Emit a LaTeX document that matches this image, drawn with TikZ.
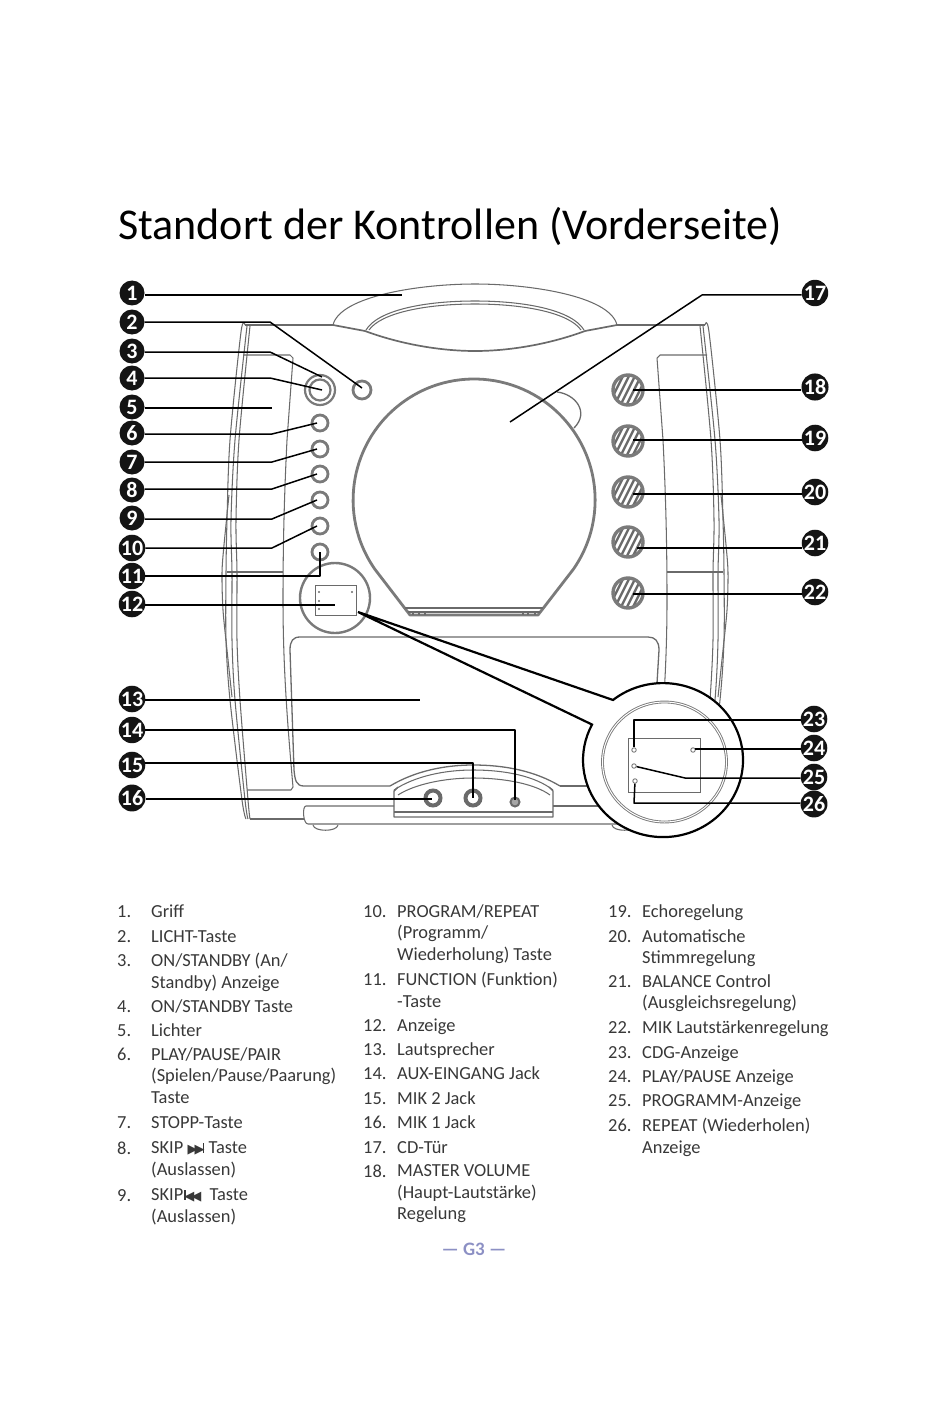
\documentclass[tikz,border=0pt]{standalone}
\usepackage{fontspec}
\setmainfont{Carlito}
\newfontfamily\symfont{DejaVu Sans}
\usetikzlibrary{arrows.meta,positioning,shapes.geometric,calc}
\definecolor{bodygray}{HTML}{6A6A6A}
\definecolor{ringgray}{HTML}{7A7A7A}
\definecolor{pagelabel}{HTML}{8C90C4}
\tikzset{
  ctl/badge/.style={circle, fill=black!92, text=white, inner sep=0pt, minimum size=25pt, font=\fontsize{22}{22}\selectfont\bfseries},
  ctl/leader/.style={line width=1.5pt, black, line join=round},
  ctl/body/.style={line width=1.05pt, bodygray, line join=round},
  ctl/ring/.style={line width=2.8pt, ringgray},
  ctl/button/.style={draw=ringgray, circle, line width=2.8pt, inner sep=0pt, minimum size=16pt},
  ctl/knob/.style={draw=ringgray, circle, line width=3.4pt, inner sep=0pt, minimum size=30pt,
    path picture={
      \foreach \i in {-4,...,4}
        \draw[bodygray, line width=2.4pt] ($(path picture bounding box.center)+(\i*6,0)+(-10,20)$) -- ++(20,-40);
    }},
  ctl/jack/.style={draw=bodygray, circle, line width=4pt, inner sep=0pt, minimum size=15pt},
  ctl/led/.style={draw=bodygray, circle, line width=0.8pt, inner sep=0pt, minimum size=4.5pt},
  ctl/tiny/.style={fill=bodygray, circle, inner sep=0pt, minimum size=2.4pt},
  ctl/lensfill/.style={fill=white, ellipse, inner sep=0pt, minimum width=160pt, minimum height=154pt},
  ctl/title/.style={anchor=base west, inner sep=0pt, font=\fontsize{44}{44}\selectfont},
  ctl/item/.style={anchor=north west, inner sep=0pt, align=left, text=black!78, font=\fontsize{18.4}{21.6}\selectfont, execute at begin node={\strut}},
  ctl/multi/.style={ctl/item, yshift=-2.3pt},
  ctl/footer/.style={inner sep=0pt, text=pagelabel, font=\fontsize{19}{19}\selectfont\bfseries}
}
\newcommand{\bodyside}{
  \draw[ctl/body] plot[smooth, tension=0.5] coordinates {(245,325) (241,332) (230,440) (227,520) (226,573) (226,640) (230,700) (242,800) (246,819)};
  \draw[ctl/body] plot[smooth, tension=0.5] coordinates {(247,326) (235,440) (231,520) (232,573) (232,640) (235,700) (245,800) (248,819)};
  \draw[ctl/body] plot[smooth, tension=0.5] coordinates {(250,326) (239,440) (236,520) (237,573) (237,640) (240,700) (248,800) (250,819)};
  \draw[ctl/body] plot[smooth, tension=0.5] coordinates {(229,495) (224,545) (222,573) (223,610) (227,650) (232,697)};
  \draw[ctl/body] (227,572) -- (283,572);
  \draw[ctl/body] (243,355) -- (290,355) -- (293,358) -- (287,440) .. controls (284,500) and (283,550) .. (283,600) .. controls (283,670) and (288,730) .. (293,787) -- (291,790) -- (247,790);
}
\newcommand{\skipicon}[1]{{\symfont\fontsize{13}{13}\selectfont #1}}
\newcommand{\skipbar}{\rule[0.6pt]{1.5pt}{9.6pt}}

\begin{document}
\begin{tikzpicture}[x=1pt,y=-1pt]
  \useasboundingbox (0,0) rectangle (950,1420);
  \node[ctl/title] (title) at (118,240) {Standort der Kontrollen (Vorderseite)};

  % handle and cabinet
  \draw[ctl/body] (333,325) .. controls (340,296) and (420,284) .. (475,284) .. controls (530,284) and (610,296) .. (617,325);
  \draw[ctl/body, line width=1.7pt] (333,325) -- (365,331) .. controls (400,344) and (440,351) .. (475,351) .. controls (510,351) and (550,344) .. (585,331) -- (617,325);
  \draw[ctl/body] (366,330) .. controls (378,310) and (425,301) .. (475,301) .. controls (525,301) and (572,310) .. (584,330);
  \draw[ctl/body] (369,330) .. controls (381,313) and (425,304) .. (475,304) .. controls (525,304) and (569,313) .. (581,330);
  \draw[ctl/body] (245,325) -- (333,325);
  \draw[ctl/body] (617,325) -- (705,325);
  \bodyside
  \begin{scope}[xshift=950pt,xscale=-1]
    \bodyside
  \end{scope}

  % speaker panel, jack housing, base
  \draw[ctl/body, line width=1.3pt] (390,786) -- (304,786) .. controls (296,786) and (295,780) .. (294,770) -- (290,650) .. controls (290,641) and (293,637) .. (300,637) -- (648,637) .. controls (655,637) and (659,641) .. (659,650) -- (656,700);
  \draw[ctl/body, line width=1.3pt] (560,786) -- (600,786);
  \draw[ctl/body, line width=1.3pt] (390,786) .. controls (415,771) and (445,765) .. (473,765) .. controls (505,765) and (535,771) .. (560,786);
  \draw[ctl/body] (394,790) .. controls (415,776) and (445,770) .. (473,770) .. controls (505,770) and (535,776) .. (553,790);
  \draw[ctl/body] (398,795) .. controls (415,784) and (445,778) .. (473,778) .. controls (505,778) and (535,784) .. (550,795);
  \draw[ctl/body, line width=1.4pt] (398,787) -- (394,791) -- (394,817) -- (553,817) -- (553,791) -- (549,787);
  \draw[ctl/body] (394,812) -- (553,812);
  \draw[ctl/body] (394,806) -- (306,806) .. controls (302,806) and (303,824) .. (308,824) -- (640,824);
  \draw[ctl/body] (553,806) -- (640,806);
  \draw[ctl/body] (250,819) -- (304,819);
  \draw[ctl/body] (313,825) .. controls (314,832) and (337,832) .. (338,825);
  \draw[ctl/body] (612,825) .. controls (613,832) and (636,832) .. (637,825);

  % CD door
  \draw[ctl/body, line width=1.3pt] (557,392) .. controls (575,394) and (590,412) .. (574,428);
  \draw[ctl/ring, line join=round] (410,615) -- (375,569.4) arc[start angle=145, end angle=395, radius=121] -- (538,615) -- cycle;
  \draw[ctl/body] (405,608) -- (543,608);
  \draw[ctl/body] (408,612) -- (540,612);
  \draw[ctl/body] (413,612) -- (413,615);
  \draw[ctl/body] (419,612) -- (419,615);
  \draw[ctl/body] (425,612) -- (425,615);
  \draw[ctl/body] (523,612) -- (523,615);
  \draw[ctl/body] (528,612) -- (528,615);
  \draw[ctl/body] (535,612) -- (535,615);

  % controls left
  \node[ctl/button, minimum size=18pt] (btn2) at (362,390) {};
  \node[draw=ringgray, circle, line width=2.2pt, inner sep=0pt, minimum size=30pt] (btn3) at (320,390) {};
  \node[draw=ringgray, circle, line width=2.2pt, inner sep=0pt, minimum size=21pt] (btn4) at (320,390) {};
  \node[ctl/button] (btn6) at (320,423) {};
  \node[ctl/button] (btn7) at (320,449) {};
  \node[ctl/button] (btn8) at (320,474) {};
  \node[ctl/button] (btn9) at (320,500) {};
  \node[ctl/button] (btn10) at (320,526) {};
  \node[ctl/button] (btn11) at (320,552) {};

  % display in small circle
  \node[draw=ringgray, circle, line width=2.4pt, inner sep=0pt, minimum size=70pt] (disp) at (335,598) {};
  \node[draw=bodygray, line width=1pt, inner sep=0pt, minimum width=41pt, minimum height=30pt] (dispbox) at (335.5,600) {};
  \node[ctl/tiny] (tiny1) at (319,592) {};
  \node[ctl/tiny] (tiny2) at (352,592) {};
  \node[ctl/tiny] (tiny3) at (319,601) {};
  \node[ctl/tiny] (tiny4) at (319,609) {};

  % knobs right
  \node[ctl/knob] (knob18) at (628,390) {};
  \node[ctl/knob] (knob19) at (628,441) {};
  \node[ctl/knob] (knob20) at (628,492) {};
  \node[ctl/knob] (knob21) at (628,542) {};
  \node[ctl/knob] (knob22) at (628,593) {};

  % jacks
  \node[ctl/jack] (jack16) at (433,798) {};
  \node[ctl/jack] (jack15) at (473,798) {};
  \node[draw=bodygray, fill=black!35, circle, line width=2pt, inner sep=0pt, minimum size=9pt] (jack14) at (515,802) {};

  % enlarged display
  \node[ctl/lensfill] (lens) at (663,760) {};
  \coordinate (tip) at (358,612);
  \draw[line width=2.2pt] (593,725) -- (tip) -- (613,700) arc[start angle=231.3, end angle=567.3, x radius=80, y radius=77];
  \node[draw=ringgray, ellipse, double, double distance=1pt, line width=0.9pt, inner sep=0pt, minimum width=124pt, minimum height=120pt] (lensring) at (664.5,762) {};
  \node[draw=bodygray, line width=1pt, inner sep=0pt, minimum width=72pt, minimum height=54pt] (lensbox) at (664,765) {};
  \node[ctl/led] (led23) at (634,750) {};
  \node[ctl/led] (led24) at (693,750) {};
  \node[ctl/led] (led25) at (634,766) {};
  \node[ctl/led] (led26) at (635,781) {};

  % numbered badges
  \node[ctl/badge] (n1) at (132,293) {1};
  \node[ctl/badge] (n2) at (132,322) {2};
  \node[ctl/badge] (n3) at (132,351) {3};
  \node[ctl/badge] (n4) at (132,378) {4};
  \node[ctl/badge] (n5) at (132,407) {5};
  \node[ctl/badge] (n6) at (132,433) {6};
  \node[ctl/badge] (n7) at (132,462) {7};
  \node[ctl/badge] (n8) at (132,490) {8};
  \node[ctl/badge] (n9) at (132,518) {9};
  \node[ctl/badge] (n10) at (132,548) {10};
  \node[ctl/badge] (n11) at (132,576) {11};
  \node[ctl/badge] (n12) at (132,604) {12};
  \node[ctl/badge] (n13) at (132,699) {13};
  \node[ctl/badge] (n14) at (132,730) {14};
  \node[ctl/badge] (n15) at (132,765) {15};
  \node[ctl/badge] (n16) at (132,798) {16};
  \node[ctl/badge] (n17) at (815,293) {17};
  \node[ctl/badge] (n18) at (815,387) {18};
  \node[ctl/badge] (n19) at (815,438) {19};
  \node[ctl/badge] (n20) at (815,492) {20};
  \node[ctl/badge] (n21) at (815,543) {21};
  \node[ctl/badge] (n22) at (815,592) {22};
  \node[ctl/badge] (n23) at (814,719) {23};
  \node[ctl/badge] (n24) at (814,748) {24};
  \node[ctl/badge] (n25) at (814,777) {25};
  \node[ctl/badge] (n26) at (814,804) {26};

  % leader ends and elbows
  \coordinate (t1) at (402,295);
  \coordinate (e2) at (270,322);
  \coordinate (t2) at (362,388);
  \coordinate (e3) at (270,352);
  \coordinate (t3) at (322,377);
  \coordinate (e4) at (270,378);
  \coordinate (t4) at (322,390);
  \coordinate (t5) at (272,408);
  \coordinate (e6) at (272,434);
  \coordinate (t6) at (317,423);
  \coordinate (e7) at (272,462);
  \coordinate (t7) at (317,449);
  \coordinate (e8) at (272,489);
  \coordinate (t8) at (317,474);
  \coordinate (e9) at (272,519);
  \coordinate (t9) at (317,500);
  \coordinate (e10) at (272,548);
  \coordinate (t10) at (317,526);
  \coordinate (e11) at (320,576);
  \coordinate (t11) at (320,552);
  \coordinate (t12) at (335,605);
  \coordinate (t13) at (420,700);
  \coordinate (e14) at (515,730);
  \coordinate (t14) at (515,800);
  \coordinate (e15) at (473,763);
  \coordinate (t15) at (473,798);
  \coordinate (t16) at (432,799);
  \coordinate (e17) at (702,295);
  \coordinate (t17) at (510,422);
  \coordinate (t18) at (633,390);
  \coordinate (t19) at (633,440);
  \coordinate (t20) at (633,494);
  \coordinate (t21) at (637,548);
  \coordinate (t22) at (633,594);
  \coordinate (e23) at (634,720);
  \coordinate (t24) at (695,749);
  \coordinate (e25) at (685,778);
  \coordinate (e26) at (634,803);

  \draw[ctl/leader] (n1.east |- t1) -- (t1);
  \draw[ctl/leader] (n2.east |- e2) -- (e2) -- (t2);
  \draw[ctl/leader] (n3.east |- e3) -- (e3) -- (t3);
  \draw[ctl/leader] (n4.east |- e4) -- (e4) -- (t4);
  \draw[ctl/leader] (n5.east |- t5) -- (t5);
  \draw[ctl/leader] (n6.east |- e6) -- (e6) -- (t6);
  \draw[ctl/leader] (n7.east |- e7) -- (e7) -- (t7);
  \draw[ctl/leader] (n8.east |- e8) -- (e8) -- (t8);
  \draw[ctl/leader] (n9.east |- e9) -- (e9) -- (t9);
  \draw[ctl/leader] (n10.east |- e10) -- (e10) -- (t10);
  \draw[ctl/leader] (n11.east |- e11) -- (e11) -- (t11);
  \draw[ctl/leader] (n12.east |- t12) -- (t12);
  \draw[ctl/leader] (n13.east |- t13) -- (t13);
  \draw[ctl/leader] (n14.east |- e14) -- (e14) -- (t14);
  \draw[ctl/leader] (n15.east |- e15) -- (e15) -- (t15);
  \draw[ctl/leader] (n16.east |- t16) -- (t16);
  \draw[ctl/leader] (n17.west |- e17) -- (e17) -- (t17);
  \draw[ctl/leader] (n18.west |- t18) -- (t18);
  \draw[ctl/leader] (n19.west |- t19) -- (t19);
  \draw[ctl/leader] (n20.west |- t20) -- (t20);
  \draw[ctl/leader] (n21.west |- t21) -- (t21);
  \draw[ctl/leader] (n22.west |- t22) -- (t22);
  \draw[ctl/leader] (n23.west |- e23) -- (e23) -- (led23);
  \draw[ctl/leader] (n24.west |- t24) -- (t24);
  \draw[ctl/leader] (n25.west |- e25) -- (e25) -- (led25);
  \draw[ctl/leader] (n26.west |- e26) -- (e26) -- (led26);

  % parts list
  \node[ctl/item] (num1) at (117,902) {1.};
  \node[ctl/item] (txt1) at (151,902) {Griff};
  \node[ctl/item] (num2) at (117,927) {2.};
  \node[ctl/item] (txt2) at (151,927) {LICHT-Taste};
  \node[ctl/item] (num3) at (117,951) {3.};
  \node[ctl/multi] (txt3) at (151,951) {ON/STANDBY (An/\\Standby) Anzeige};
  \node[ctl/item] (num4) at (117,997) {4.};
  \node[ctl/item] (txt4) at (151,997) {ON/STANDBY Taste};
  \node[ctl/item] (num5) at (117,1021) {5.};
  \node[ctl/item] (txt5) at (151,1021) {Lichter};
  \node[ctl/item] (num6) at (117,1045) {6.};
  \node[ctl/multi] (txt6) at (151,1045) {PLAY/PAUSE/PAIR\\(Spielen/Pause/Paarung)\\Taste};
  \node[ctl/item] (num7) at (117,1113) {7.};
  \node[ctl/item] (txt7) at (151,1113) {STOPP-Taste};
  \node[ctl/item] (num8) at (117,1139) {8.};
  \node[ctl/multi] (txt8) at (151,1139) {SKIP \skipicon{▶\kern-3pt▶}\kern-1.6pt\skipbar\ Taste\\(Auslassen)};
  \node[ctl/item] (num9) at (117,1186) {9.};
  \node[ctl/multi] (txt9) at (151,1186) {SKIP\kern1pt\skipbar\kern-1.6pt\skipicon{◀\kern-3pt◀}\ \ Taste\\(Auslassen)};

  \node[ctl/item] (num10) at (363,902) {10.};
  \node[ctl/multi] (txt10) at (397,902) {PROGRAM/REPEAT\\(Programm/\\Wiederholung) Taste};
  \node[ctl/item] (num11) at (363,970) {11.};
  \node[ctl/multi] (txt11) at (397,970) {FUNCTION (Funktion)\\-Taste};
  \node[ctl/item] (num12) at (363,1016) {12.};
  \node[ctl/item] (txt12) at (397,1016) {Anzeige};
  \node[ctl/item] (num13) at (363,1040) {13.};
  \node[ctl/item] (txt13) at (397,1040) {Lautsprecher};
  \node[ctl/item] (num14) at (363,1064) {14.};
  \node[ctl/item] (txt14) at (397,1064) {AUX-EINGANG Jack};
  \node[ctl/item] (num15) at (363,1089) {15.};
  \node[ctl/item] (txt15) at (397,1089) {MIK 2 Jack};
  \node[ctl/item] (num16) at (363,1113) {16.};
  \node[ctl/item] (txt16) at (397,1113) {MIK 1 Jack};
  \node[ctl/item] (num17) at (363,1138) {17.};
  \node[ctl/item] (txt17) at (397,1138) {CD-Tür};
  \node[ctl/item] (num18) at (363,1162) {18.};
  \node[ctl/multi] (txt18) at (397,1162) {MASTER VOLUME\\(Haupt-Lautstärke)\\Regelung};

  \node[ctl/item] (num19) at (608,902) {19.};
  \node[ctl/item] (txt19) at (642,902) {Echoregelung};
  \node[ctl/item] (num20) at (608,927) {20.};
  \node[ctl/multi] (txt20) at (642,927) {Automatische\\Stimmregelung};
  \node[ctl/item] (num21) at (608,972) {21.};
  \node[ctl/multi] (txt21) at (642,972) {BALANCE Control\\(Ausgleichsregelung)};
  \node[ctl/item] (num22) at (608,1018) {22.};
  \node[ctl/item] (txt22) at (642,1018) {MIK Lautstärkenregelung};
  \node[ctl/item] (num23) at (608,1043) {23.};
  \node[ctl/item] (txt23) at (642,1043) {CDG-Anzeige};
  \node[ctl/item] (num24) at (608,1067) {24.};
  \node[ctl/item] (txt24) at (642,1067) {PLAY/PAUSE Anzeige};
  \node[ctl/item] (num25) at (608,1091) {25.};
  \node[ctl/item] (txt25) at (642,1091) {PROGRAMM-Anzeige};
  \node[ctl/item] (num26) at (608,1116) {26.};
  \node[ctl/multi] (txt26) at (642,1116) {REPEAT (Wiederholen)\\Anzeige};

  \node[ctl/footer] (pagenum) at (474,1249) {--- G3 ---};
\end{tikzpicture}
\end{document}
